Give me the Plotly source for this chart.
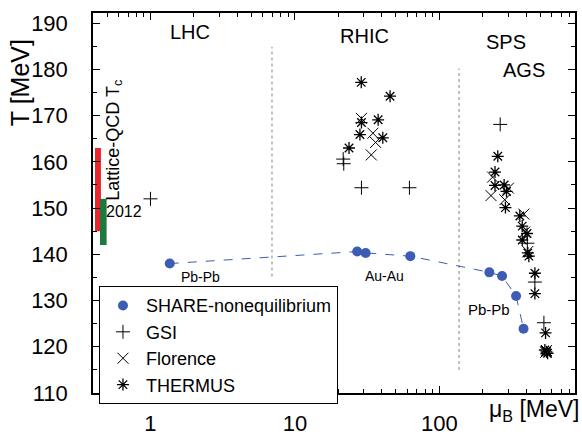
import numpy as np
import plotly.graph_objects as go

# ---------------- data ----------------
share_mu = [1.36, 27.0, 30.9, 63.0, 222, 272, 340, 383]
share_T = [138.0, 140.6, 140.3, 139.6, 136.1, 135.3, 131.0, 123.9]

gsi_mu = [1.0, 21.6, 21.8, 28.9, 62.1, 264, 407, 459, 530]
gsi_T = [152.0, 160.6, 159.6, 154.4, 154.4, 168.1, 142.4, 134.0, 125.2]

flor_mu = [28.9, 34.7, 36.2, 33.8, 234, 228, 301, 284, 385, 390, 410, 552, 545]
flor_T = [169.4, 166.2, 164.2, 161.5, 156.7, 152.7, 154.3, 151.8, 148.7, 144.8, 140.6, 119.2, 118.8]

therm_mu = [28.8, 45.6, 28.9, 37.7, 28.2, 23.7, 40.6,
            254, 243, 243, 281, 292, 287, 361, 375, 405, 375, 410, 417,
            459, 459, 544, 538, 552, 562]
therm_T = [177.2, 174.2, 168.5, 169.1, 165.9, 163.0, 165.2,
           161.2, 157.8, 154.9, 155.0, 153.6, 150.1, 148.3, 146.1, 144.5, 143.1, 140.3, 139.6,
           135.9, 131.5, 123.0, 119.3, 118.9, 118.6]

# lattice QCD Tc bands (mu range, T range)
lat_red_mu = [0.413, 0.454]
lat_red_T = [145.0, 163.0]
lat_green_mu = [0.447, 0.497]
lat_green_T = [142.0, 152.0]

# region separators (mu, T from, T to)
sep1_mu = 6.94
sep1_T = [135.2, 184.9]
sep2_mu = 137.0
sep2_T = [115.0, 180.2]

FONT = "Liberation Sans, Arial, Helvetica, sans-serif"
BLUE = "#3d5cb4"

fig = go.Figure()

# lattice bands
def band(mu, T, color):
    return go.Scatter(x=[mu[0], mu[1], mu[1], mu[0], mu[0]],
                      y=[T[0], T[0], T[1], T[1], T[0]],
                      mode="lines", fill="toself", fillcolor=color,
                      line=dict(width=0, color=color), showlegend=False,
                      hoverinfo="skip")

fig.add_trace(band(lat_red_mu, lat_red_T, "#e8262b"))
fig.add_trace(band(lat_green_mu, lat_green_T, "#1e7a3c"))

# separators
for m, T in [(sep1_mu, sep1_T), (sep2_mu, sep2_T)]:
    fig.add_trace(go.Scatter(x=[m, m], y=T, mode="lines",
                             line=dict(color="#999999", width=1.2, dash="dot"),
                             showlegend=False, hoverinfo="skip"))

# SHARE line
fig.add_trace(go.Scatter(x=share_mu, y=share_T, mode="lines",
                         line=dict(color=BLUE, width=1, dash="dash"),
                         showlegend=False, hoverinfo="skip"))
fig.add_trace(go.Scatter(x=share_mu, y=share_T, mode="markers",
                         name="SHARE-nonequilibrium",
                         marker=dict(color=BLUE, size=10, symbol="circle")))
fig.add_trace(go.Scatter(x=gsi_mu, y=gsi_T, mode="markers", name="GSI",
                         marker=dict(symbol="cross-thin", size=10,
                                     line=dict(color="black", width=1))))
fig.add_trace(go.Scatter(x=flor_mu, y=flor_T, mode="markers", name="Florence",
                         marker=dict(symbol="x-thin", size=11,
                                     line=dict(color="black", width=1))))
fig.add_trace(go.Scatter(x=therm_mu, y=therm_T, mode="markers", name="THERMUS",
                         marker=dict(symbol="asterisk", size=10,
                                     line=dict(color="black", width=1.3))))

def ann(text, mu, T, size, **kw):
    d = dict(text=text, x=np.log10(mu), y=T, xref="x", yref="y",
             showarrow=False, font=dict(family=FONT, size=size, color="black"))
    d.update(kw)
    fig.add_annotation(**d)

ann("LHC", 1.87, 188.0, 20)
ann("RHIC", 30.1, 187.2, 20)
ann("SPS", 288, 185.9, 20)
ann("AGS", 383, 179.8, 20)
ann("Pb-Pb", 2.22, 135.2, 14)
ann("Au-Au", 42.0, 135.4, 14)
ann("Pb-Pb", 222, 128.1, 15)
ann("2012", 0.66, 149.2, 16)
ann("Lattice-QCD T<sub>c</sub>", 0.56, 164.6, 18, textangle=-90)

# axis titles as annotations
fig.add_annotation(text="T [MeV]", xref="paper", yref="paper", x=-0.151, y=0.816,
                   xanchor="center", yanchor="middle",
                   textangle=-90, showarrow=False,
                   font=dict(family=FONT, size=25, color="black"))
fig.add_annotation(text="μ<sub>B</sub> [MeV]", xref="paper", yref="paper",
                   x=1.012, y=-0.046, xanchor="right", yanchor="middle",
                   showarrow=False, font=dict(family=FONT, size=23, color="black"))

axis_common = dict(showline=True, linecolor="black", linewidth=1.5, mirror="ticks",
                   ticks="inside", tickcolor="black", ticklen=7, tickwidth=1,
                   showgrid=False, zeroline=False,
                   tickfont=dict(family=FONT, size=22, color="black"))

fig.update_xaxes(type="log", range=[np.log10(0.4), np.log10(870)], dtick=1,
                 minor=dict(ticks="inside", ticklen=4, dtick="D1", tickcolor="black",
                            showgrid=False),
                 ticklabelstandoff=10, **axis_common)
fig.update_yaxes(range=[110, 192.2], dtick=10, tick0=110,
                 minor=dict(ticks="inside", ticklen=4, dtick=5, tickcolor="black",
                            showgrid=False),
                 ticklabelstandoff=19, **axis_common)

fig.update_layout(
    width=582, height=441,
    margin=dict(l=93, r=5, t=13, b=37),
    paper_bgcolor="white", plot_bgcolor="white",
    font=dict(family=FONT, color="black"),
    legend=dict(x=0.0124, y=0.281, xanchor="left", yanchor="top",
                bordercolor="black", borderwidth=1, bgcolor="white",
                font=dict(family=FONT, size=18, color="black"),
                itemwidth=36, tracegroupgap=0),
    showlegend=True,
)

fig.write_html("out.html", config={"displayModeBar": False},
               post_script="document.body.style.margin='0';document.body.style.overflow='hidden';")
